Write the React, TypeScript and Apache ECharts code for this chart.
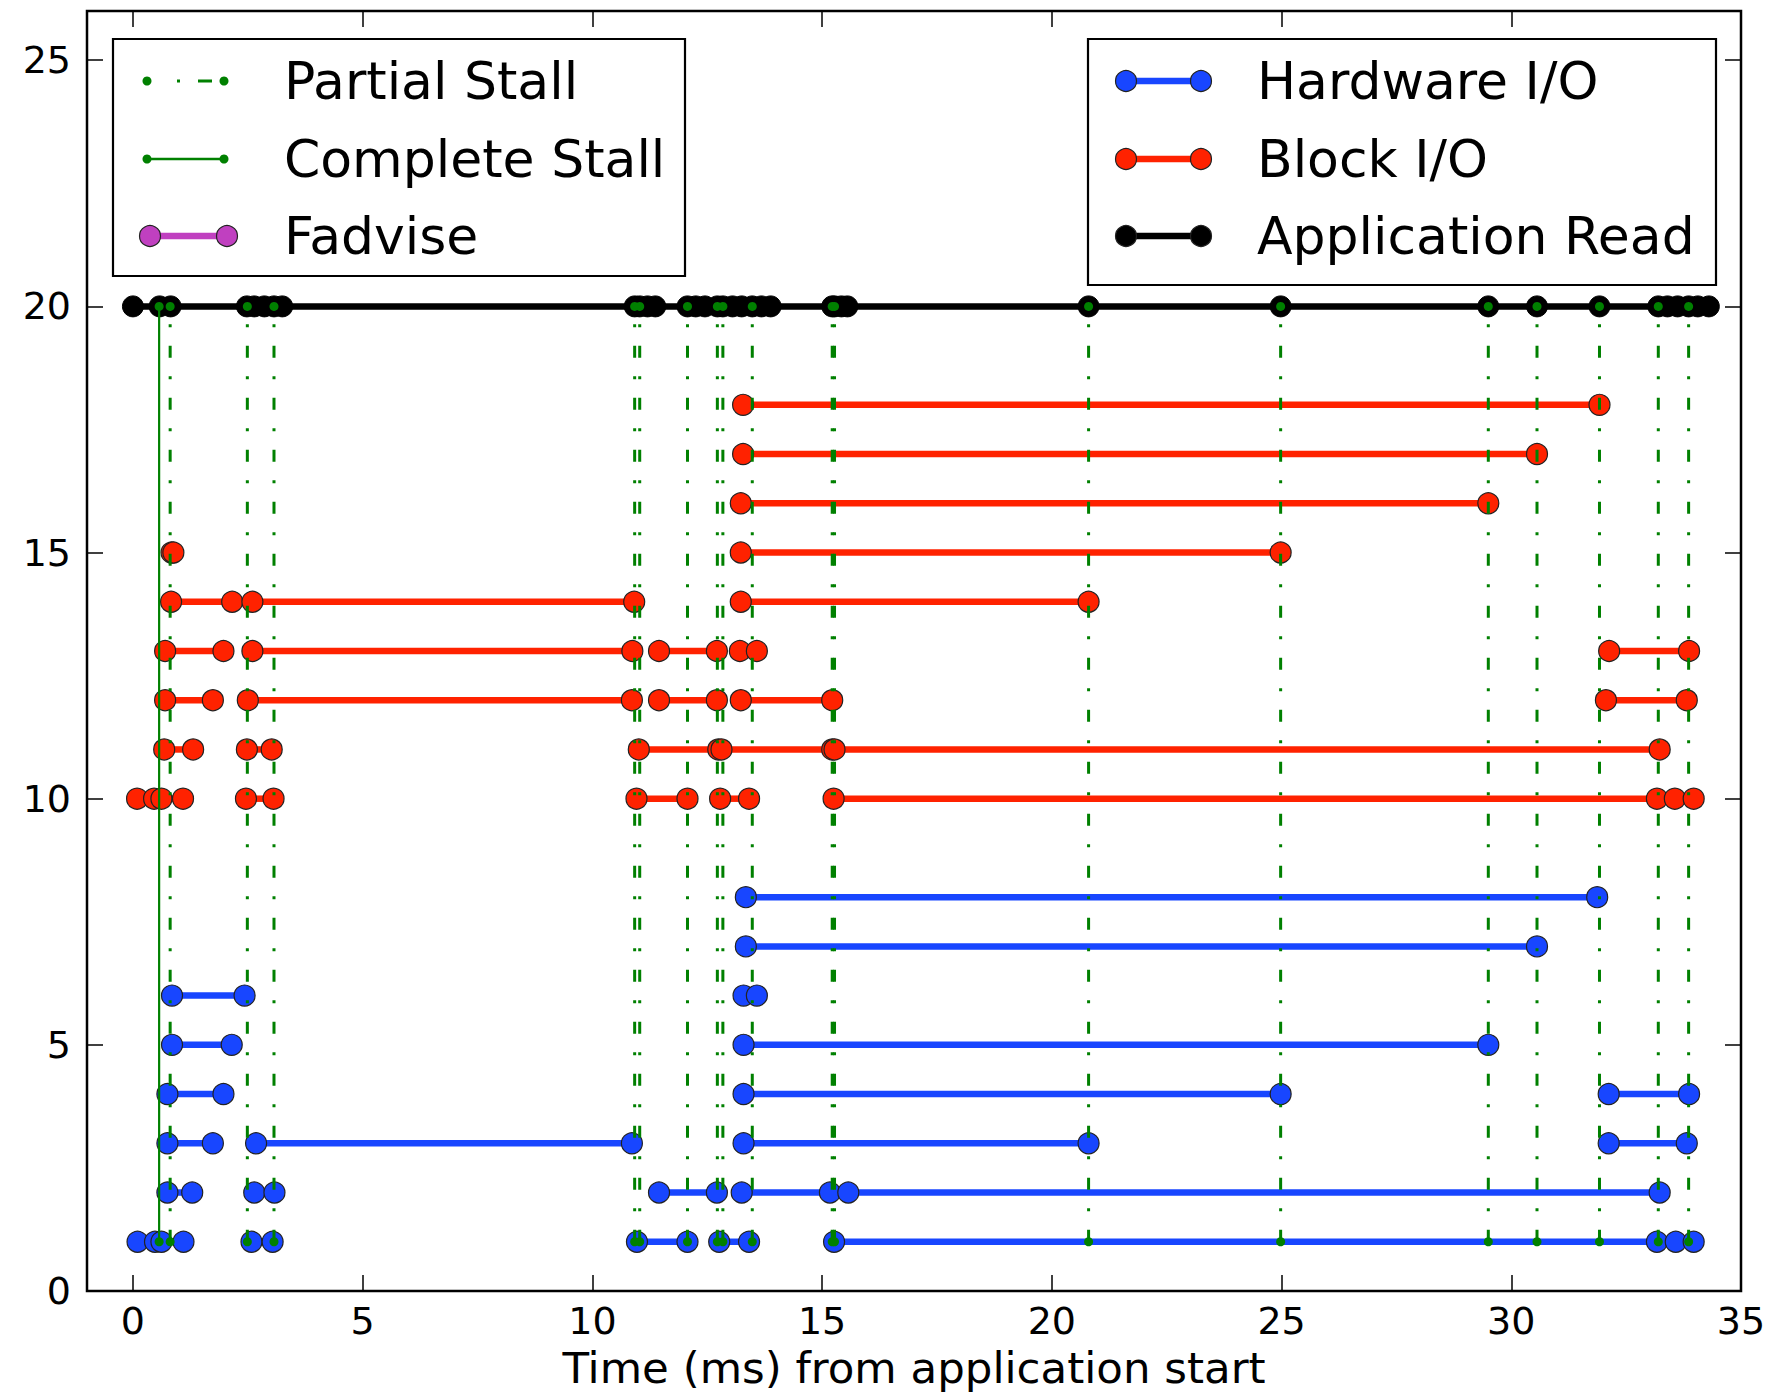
import React, { useEffect, useRef } from "react";
import * as echarts from "echarts";

const FONT = "'DejaVu Sans', 'Liberation Sans', sans-serif";

// Axis ticks / ranges
const xTicks = [0, 5, 10, 15, 20, 25, 30, 35];
const yTicks = [0, 5, 10, 15, 20, 25];
const xRange = [-1, 35];
const yRange = [0, 26];

// Hardware I/O segments: [start ms, end ms, lane]
const hardwareIO = [
  [0.10, 0.48, 1], [0.62, 1.10, 1], [2.58, 3.04, 1], [10.97, 12.07, 1], [12.76, 13.41, 1], [15.26, 33.17, 1], [33.58, 33.97, 1],
  [0.75, 1.29, 2], [2.64, 3.08, 2], [11.45, 12.71, 2], [13.25, 15.17, 2], [15.57, 33.23, 2],
  [0.75, 1.74, 3], [2.68, 10.86, 3], [13.29, 20.80, 3], [32.12, 33.82, 3],
  [0.75, 1.97, 4], [13.29, 24.98, 4], [32.12, 33.87, 4],
  [0.85, 2.15, 5], [13.29, 29.50, 5],
  [0.85, 2.43, 6], [13.29, 13.58, 6],
  [13.34, 30.56, 7],
  [13.34, 31.87, 8],
];

// Block I/O segments: [start ms, end ms, lane]
const blockIO = [
  [0.09, 0.46, 10], [0.62, 1.09, 10], [2.46, 3.06, 10], [10.96, 12.07, 10], [12.78, 13.41, 10], [15.25, 33.17, 10], [33.56, 33.97, 10],
  [0.68, 1.31, 11], [2.48, 3.02, 11], [11.01, 12.74, 11], [12.81, 15.22, 11], [15.27, 33.23, 11],
  [0.70, 1.74, 12], [2.50, 10.86, 12], [11.45, 12.71, 12], [13.23, 15.22, 12], [32.06, 33.82, 12],
  [0.70, 1.97, 13], [2.60, 10.87, 13], [11.45, 12.71, 13], [13.21, 13.58, 13], [32.13, 33.87, 13],
  [0.83, 2.16, 14], [2.60, 10.91, 14], [13.23, 20.80, 14],
  [0.84, 0.88, 15], [13.23, 24.98, 15],
  [13.23, 29.50, 16],
  [13.28, 30.56, 17],
  [13.28, 31.92, 18],
];

// Application Read boundary times on lane 20
const appReadLane = 20;
const appReadTimes = [
  0.0, 0.58, 0.82, 2.48, 2.64, 2.86, 3.07, 3.25,
  10.92, 11.03, 11.2, 11.37,
  12.07, 12.25, 12.45, 12.72, 12.84, 13.05, 13.25, 13.48, 13.68, 13.88,
  15.22, 15.27, 15.42, 15.55,
  20.8, 24.98, 29.5, 30.56, 31.92,
  33.2, 33.4, 33.62, 33.86, 34.06, 34.3,
];

// Stalls: vertical lines spanning lanes 1..20
const stallSpan = [1, 20];
const partialStalls = [
  0.81, 2.49, 3.07, 10.92, 11.03, 12.07, 12.72, 12.84, 13.48, 15.22, 15.27,
  20.8, 24.98, 29.5, 30.56, 31.92, 33.2, 33.86,
];
const completeStalls = [0.57];

const BLUE = "#1846ff";
const RED = "#ff2200";
const GREEN = "#008000";
const MAGENTA = "#c040c0";
const BLACK = "#000000";
const LINE_W = 6.5;
const MARK_R = 10.5;
const DOT_R = 4.5;
const DASHDOT = [12, 18.5, 3, 18.5];

function segmentSeries(name: string, data: number[][], color: string, z: number) {
  return {
    type: "custom",
    name,
    z,
    silent: true,
    data,
    encode: { x: [0, 1], y: 2 },
    renderItem: (params: any, api: any) => {
      const lane = api.value(2);
      const a = api.coord([api.value(0), lane]);
      const b = api.coord([api.value(1), lane]);
      return {
        type: "group",
        children: [
          { type: "line", shape: { x1: a[0], y1: a[1], x2: b[0], y2: b[1] }, style: { stroke: color, lineWidth: LINE_W } },
          { type: "circle", shape: { cx: a[0], cy: a[1], r: MARK_R }, style: { fill: color, stroke: "#222", lineWidth: 1.2 } },
          { type: "circle", shape: { cx: b[0], cy: b[1], r: MARK_R }, style: { fill: color, stroke: "#222", lineWidth: 1.2 } },
        ],
      };
    },
  };
}

function stallSeries(name: string, times: number[], dashed: boolean, z: number) {
  return {
    type: "custom",
    name,
    z,
    silent: true,
    data: times.map((t) => [t, stallSpan[0], stallSpan[1]]),
    encode: { x: 0, y: [1, 2] },
    renderItem: (params: any, api: any) => {
      const a = api.coord([api.value(0), api.value(1)]);
      const b = api.coord([api.value(0), api.value(2)]);
      return {
        type: "group",
        children: [
          {
            type: "line",
            shape: { x1: a[0], y1: a[1], x2: b[0], y2: b[1] },
            style: dashed
              ? { stroke: GREEN, lineWidth: 3, lineDash: DASHDOT, lineCap: "butt" }
              : { stroke: GREEN, lineWidth: 2.2 },
          },
          { type: "circle", shape: { cx: a[0], cy: a[1], r: DOT_R }, style: { fill: GREEN } },
          { type: "circle", shape: { cx: b[0], cy: b[1], r: DOT_R }, style: { fill: GREEN } },
        ],
      };
    },
  };
}

function legendGraphics() {
  const els: any[] = [];
  const rows = [81, 159, 236];
  els.push({ type: "rect", shape: { x: 113, y: 39, width: 572, height: 237 }, style: { fill: "#fff", stroke: "#000", lineWidth: 2.2 }, z: 100 });
  els.push({ type: "rect", shape: { x: 1088, y: 39, width: 628, height: 246 }, style: { fill: "#fff", stroke: "#000", lineWidth: 2.2 }, z: 100 });

  const lx1 = 150, lx2 = 227, ltx = 284;
  const rx1 = 1126, rx2 = 1201, rtx = 1257;

  const text = (x: number, y: number, t: string) => ({
    type: "text",
    x,
    y,
    z: 101,
    style: { text: t, fontSize: 52, fontFamily: FONT, fill: "#000", align: "left", verticalAlign: "middle" },
  });
  const bigIcon = (x1: number, x2: number, y: number, color: string) => [
    { type: "line", z: 101, shape: { x1, y1: y, x2, y2: y }, style: { stroke: color, lineWidth: LINE_W } },
    { type: "circle", z: 102, shape: { cx: x1, cy: y, r: MARK_R }, style: { fill: color, stroke: "#222", lineWidth: 1.2 } },
    { type: "circle", z: 102, shape: { cx: x2, cy: y, r: MARK_R }, style: { fill: color, stroke: "#222", lineWidth: 1.2 } },
  ];
  const smallIcon = (x1: number, x2: number, y: number, dashed: boolean) => [
    {
      type: "line",
      z: 101,
      shape: { x1, y1: y, x2, y2: y },
      style: dashed ? { stroke: GREEN, lineWidth: 3, lineDash: [3, 27, 3, 18, 14, 30] } : { stroke: GREEN, lineWidth: 2.5 },
    },
    { type: "circle", z: 102, shape: { cx: x1, cy: y, r: DOT_R }, style: { fill: GREEN } },
    { type: "circle", z: 102, shape: { cx: x2, cy: y, r: DOT_R }, style: { fill: GREEN } },
  ];

  els.push(...smallIcon(lx1 - 3, lx2 - 3, rows[0], true), text(ltx, rows[0], "Partial Stall"));
  els.push(...smallIcon(lx1 - 3, lx2 - 3, rows[1], false), text(ltx, rows[1], "Complete Stall"));
  els.push(...bigIcon(lx1, lx2, rows[2], MAGENTA), text(ltx, rows[2], "Fadvise"));

  els.push(...bigIcon(rx1, rx2, rows[0], BLUE), text(rtx, rows[0], "Hardware I/O"));
  els.push(...bigIcon(rx1, rx2, rows[1], RED), text(rtx, rows[1], "Block I/O"));
  els.push(...bigIcon(rx1, rx2, rows[2], BLACK), text(rtx, rows[2], "Application Read"));
  return els;
}

export default function App() {
  const ref = useRef<HTMLDivElement>(null);

  useEffect(() => {
    if (!ref.current) return;
    const chart = echarts.init(ref.current, undefined, { renderer: "svg" });

    const tickStyle = { color: "#000", width: 1.5 };
    const axisLabelStyle = { fontSize: 38, fontFamily: FONT, color: "#000" };
    const hiddenLine = { show: false, onZero: false };

    const option: any = {
      animation: false,
      backgroundColor: "#fff",
      grid: {
        left: 87,
        top: 11,
        width: 1654,
        height: 1282,
        show: true,
        borderColor: "#000",
        borderWidth: 2.5,
        backgroundColor: "#fff",
      },
      xAxis: [
        {
          type: "value",
          position: "bottom",
          min: xRange[0],
          max: xRange[1],
          axisLine: hiddenLine,
          splitLine: { show: false },
          axisTick: { show: true, inside: true, length: 16, lineStyle: tickStyle, customValues: xTicks },
          axisLabel: { ...axisLabelStyle, margin: 11, customValues: xTicks },
          name: "Time (ms) from application start",
          nameLocation: "middle",
          nameGap: 55,
          nameTextStyle: { fontSize: 43.5, fontFamily: FONT, color: "#000" },
        },
        {
          type: "value",
          position: "top",
          min: xRange[0],
          max: xRange[1],
          axisLine: hiddenLine,
          splitLine: { show: false },
          axisTick: { show: true, inside: true, length: 16, lineStyle: tickStyle, customValues: xTicks },
          axisLabel: { show: false },
        },
      ],
      yAxis: [
        {
          type: "value",
          position: "left",
          min: yRange[0],
          max: yRange[1],
          axisLine: hiddenLine,
          splitLine: { show: false },
          axisTick: { show: true, inside: true, length: 16, lineStyle: tickStyle, customValues: yTicks },
          axisLabel: { ...axisLabelStyle, margin: 16, customValues: yTicks },
        },
        {
          type: "value",
          position: "right",
          min: yRange[0],
          max: yRange[1],
          axisLine: hiddenLine,
          splitLine: { show: false },
          axisTick: { show: true, inside: true, length: 16, lineStyle: tickStyle, customValues: yTicks },
          axisLabel: { show: false },
        },
      ],
      series: [
        segmentSeries("Hardware I/O", hardwareIO, BLUE, 2),
        segmentSeries("Block I/O", blockIO, RED, 3),
        {
          type: "line",
          name: "Application Read",
          z: 4,
          silent: true,
          data: appReadTimes.map((t) => [t, appReadLane]),
          symbol: "circle",
          symbolSize: MARK_R * 2,
          itemStyle: { color: BLACK, borderColor: BLACK, borderWidth: 1 },
          lineStyle: { color: BLACK, width: LINE_W },
        },
        stallSeries("Partial Stall", partialStalls, true, 5),
        stallSeries("Complete Stall", completeStalls, false, 6),
      ],
      graphic: legendGraphics(),
    };

    chart.setOption(option);
    return () => chart.dispose();
  }, []);

  return (
    <div
      ref={ref}
      style={{ position: "absolute", left: 0, top: 0, width: 1770, height: 1395, background: "#fff" }}
    />
  );
}
